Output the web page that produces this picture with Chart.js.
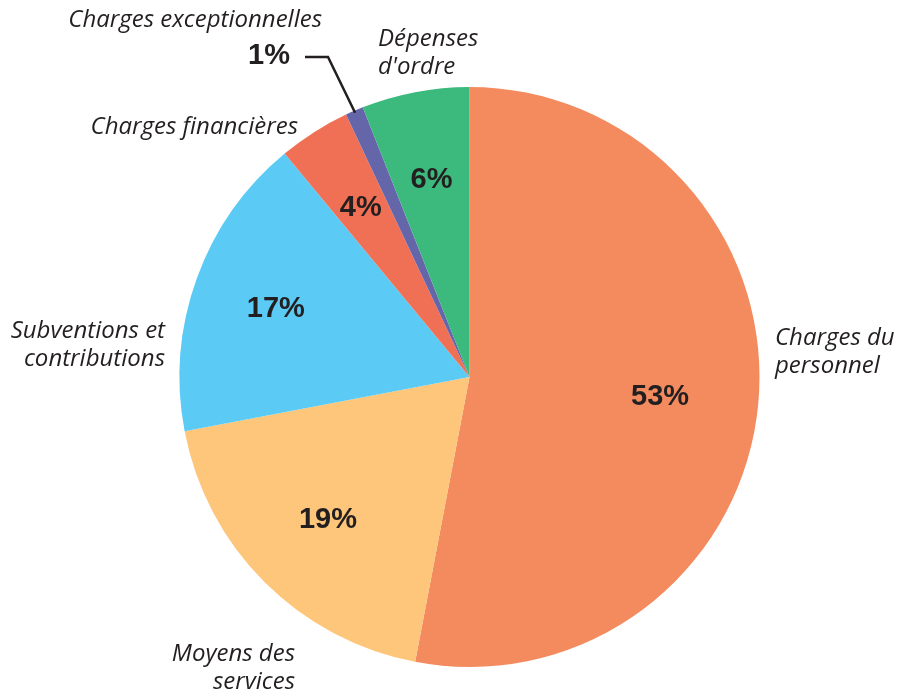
<!DOCTYPE html>
<html>
<head>
<meta charset="utf-8">
<style>
    body { margin: 0; background: #fff; }
</style>
<script src="https://cdn.jsdelivr.net/npm/chart.js@4"></script>
</head>
<body>
<canvas id="myChart" width="898" height="691"></canvas>
<script>
    // slices, clockwise from 12 o'clock
    const categories = ['Charges du personnel', 'Moyens des services', 'Subventions et contributions',
                        'Charges financières', 'Charges exceptionnelles', "Dépenses d'ordre"]
    const values = [53, 19, 17, 4, 1, 6]
    const pctLabels = ['53%', '19%', '17%', '4%', '1%', '6%']
    const colors = ['#F48B5E', '#FDC67A', '#5BCBF5', '#F07055', '#6566AA', '#3CB97C']

    const textColor = '#231F20'

    // where each percentage sits along its slice, as a fraction of the radius
    const labelRadius = [0.66, 0.69, 0.71, 0.7, 0, 0.7]

    // category captions (wrapped), placed around the pie
    const captions = [
        {lines: ['Charges du', 'personnel'], x: 775, y: 338, align: 'left'},
        {lines: ['Moyens des', 'services'], x: 295, y: 654, align: 'right'},
        {lines: ['Subventions et', 'contributions'], x: 165, y: 331, align: 'right'},
        {lines: ['Charges financières'], x: 298, y: 127, align: 'right'},
        {lines: ['Charges exceptionnelles'], x: 322, y: 20, align: 'right'},
        {lines: ['Dépenses', "d'ordre"], x: 378, y: 39, align: 'left'}
    ]

    const labelPlugin = {
        id: 'labels',
        afterDraw(chart) {
            const ctx = chart.ctx
            const arcs = chart.getDatasetMeta(0).data
            ctx.save()
            ctx.fillStyle = textColor
            ctx.textBaseline = 'middle'

            // percentages inside the slices
            ctx.font = 'bold 29px "Liberation Sans", Arial, sans-serif'
            ctx.textAlign = 'center'
            arcs.forEach((arc, i) => {
                const p = arc.getProps(['x', 'y', 'startAngle', 'endAngle', 'outerRadius'], true)
                const mid = (p.startAngle + p.endAngle) / 2
                if (i === 4) {
                    // small slice: label outside with a leader line
                    const ex = p.x + Math.cos(mid) * (p.outerRadius - 2)
                    const ey = p.y + Math.sin(mid) * (p.outerRadius - 2)
                    ctx.strokeStyle = textColor
                    ctx.lineWidth = 2.5
                    ctx.beginPath()
                    ctx.moveTo(ex, ey)
                    ctx.lineTo(328, 57)
                    ctx.lineTo(305, 57)
                    ctx.stroke()
                    ctx.fillText(pctLabels[i], 269, 56)
                    return
                }
                const r = p.outerRadius * labelRadius[i]
                ctx.fillText(pctLabels[i], p.x + Math.cos(mid) * r, p.y + Math.sin(mid) * r + 2)
            })

            // italic captions
            ctx.font = 'italic 24px "Open Sans", sans-serif'
            captions.forEach(c => {
                ctx.textAlign = c.align
                c.lines.forEach((line, k) => ctx.fillText(line, c.x, c.y + k * 28))
            })
            ctx.restore()
        }
    }

    const ctx = document.getElementById('myChart').getContext('2d')
    const chart = new Chart(ctx, {
        type: 'pie',
        data: {
            labels: categories,
            datasets: [{
                data: values,
                backgroundColor: colors,
                borderWidth: 0
            }]
        },
        options: {
            responsive: false,
            maintainAspectRatio: false,
            animation: false,
            layout: {
                padding: {left: 179, right: 138, top: 87, bottom: 24}
            },
            plugins: {
                legend: {display: false},
                tooltip: {enabled: false}
            }
        },
        plugins: [labelPlugin]
    })
</script>
</body>
</html>
